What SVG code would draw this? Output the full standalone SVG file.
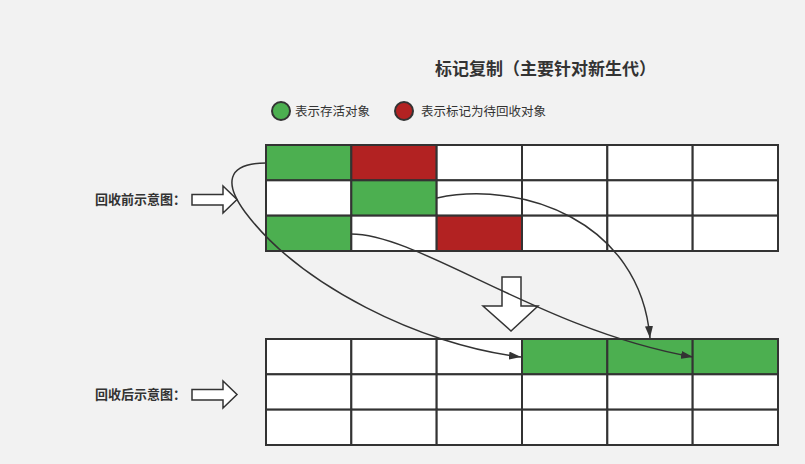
<svg xmlns="http://www.w3.org/2000/svg" width="805" height="464" viewBox="0 0 805 464">
<defs>
<style>
.t{font-family:"Noto Sans CJK SC","Liberation Sans",sans-serif;fill:#333}
.title{font-size:17px;font-weight:bold}
.leg{font-size:12.5px}
.lab{font-size:13px;font-weight:bold}
.c{stroke:#333;stroke-width:2;fill:#fff}
.g{fill:#4CAF50}
.r{fill:#B22222}
.hollow{fill:#fff;stroke:#333;stroke-width:1.5}
.conn{fill:none;stroke:#333;stroke-width:1.5;marker-end:url(#ah)}
</style>
<marker id="ah" markerUnits="userSpaceOnUse" markerWidth="12" markerHeight="8" refX="12" refY="4" orient="auto">
<path d="M0,0 L12,4 L0,8 z" fill="#333"/>
</marker>
</defs>
<rect width="805" height="464" fill="#F2F2F2"/>
<g id="title"><text class="t title" x="435" y="75">标记复制（主要针对新生代）</text></g>
<g id="legend">
<circle cx="281" cy="111" r="9" fill="#4CAF50" stroke="#333" stroke-width="2"/>
<text class="t leg" x="295" y="116">表示存活对象</text>
<circle cx="404" cy="111" r="9" fill="#B22222" stroke="#333" stroke-width="2"/>
<text class="t leg" x="421" y="116">表示标记为待回收对象</text>
</g>
<g id="label-before">
<text class="t lab" x="95" y="204">回收前示意图：</text>
<polygon class="hollow" points="192,194.5 223,194.5 223,186 237,199.5 223,213 223,205 192,205"/>
</g>
<g id="label-after">
<text class="t lab" x="95" y="399">回收后示意图：</text>
<polygon class="hollow" points="192,389.5 223,389.5 223,381 237,394.5 223,408 223,400 192,400"/>
</g>
<g id="grid-before">
<rect class="c g" x="266" y="145" width="85.33" height="35.33"/>
<rect class="c r" x="351.33" y="145" width="85.33" height="35.33"/>
<rect class="c" x="436.67" y="145" width="85.33" height="35.33"/>
<rect class="c" x="522" y="145" width="85.33" height="35.33"/>
<rect class="c" x="607.33" y="145" width="85.33" height="35.33"/>
<rect class="c" x="692.67" y="145" width="85.33" height="35.33"/>
<rect class="c" x="266" y="180.33" width="85.33" height="35.33"/>
<rect class="c g" x="351.33" y="180.33" width="85.33" height="35.33"/>
<rect class="c" x="436.67" y="180.33" width="85.33" height="35.33"/>
<rect class="c" x="522" y="180.33" width="85.33" height="35.33"/>
<rect class="c" x="607.33" y="180.33" width="85.33" height="35.33"/>
<rect class="c" x="692.67" y="180.33" width="85.33" height="35.33"/>
<rect class="c g" x="266" y="215.67" width="85.33" height="35.33"/>
<rect class="c" x="351.33" y="215.67" width="85.33" height="35.33"/>
<rect class="c r" x="436.67" y="215.67" width="85.33" height="35.33"/>
<rect class="c" x="522" y="215.67" width="85.33" height="35.33"/>
<rect class="c" x="607.33" y="215.67" width="85.33" height="35.33"/>
<rect class="c" x="692.67" y="215.67" width="85.33" height="35.33"/>
</g>
<g id="down-arrow">
<polygon class="hollow" points="502,277 521,277 521,306 538,306 511,331 483,306 502,306"/>
</g>
<g id="grid-after">
<rect class="c" x="266" y="339" width="85.33" height="35.33"/>
<rect class="c" x="351.33" y="339" width="85.33" height="35.33"/>
<rect class="c" x="436.67" y="339" width="85.33" height="35.33"/>
<rect class="c g" x="522" y="339" width="85.33" height="35.33"/>
<rect class="c g" x="607.33" y="339" width="85.33" height="35.33"/>
<rect class="c g" x="692.67" y="339" width="85.33" height="35.33"/>
<rect class="c" x="266" y="374.33" width="85.33" height="35.33"/>
<rect class="c" x="351.33" y="374.33" width="85.33" height="35.33"/>
<rect class="c" x="436.67" y="374.33" width="85.33" height="35.33"/>
<rect class="c" x="522" y="374.33" width="85.33" height="35.33"/>
<rect class="c" x="607.33" y="374.33" width="85.33" height="35.33"/>
<rect class="c" x="692.67" y="374.33" width="85.33" height="35.33"/>
<rect class="c" x="266" y="409.67" width="85.33" height="35.33"/>
<rect class="c" x="351.33" y="409.67" width="85.33" height="35.33"/>
<rect class="c" x="436.67" y="409.67" width="85.33" height="35.33"/>
<rect class="c" x="522" y="409.67" width="85.33" height="35.33"/>
<rect class="c" x="607.33" y="409.67" width="85.33" height="35.33"/>
<rect class="c" x="692.67" y="409.67" width="85.33" height="35.33"/>
</g>
<g id="connectors">
<path class="conn" d="M266,163 C225,163 225,185 245,212 C300,285 420,345 521,357"/>
<path class="conn" d="M437,198 C520,180 640,220 650,338"/>
<path class="conn" d="M351,234 C420,234 540,330 693,357"/>
</g>
</svg>
